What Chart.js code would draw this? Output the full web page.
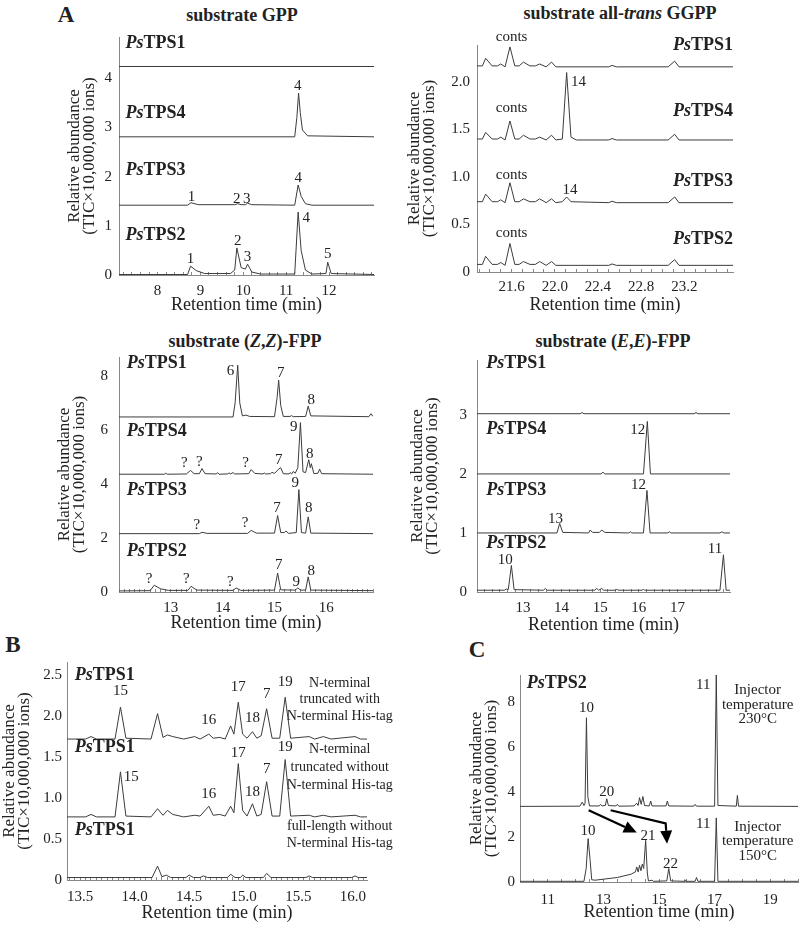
<!DOCTYPE html>
<html>
<head>
<meta charset="utf-8">
<script src="https://cdn.jsdelivr.net/npm/chart.js@4.4.0/dist/chart.umd.min.js"></script>
<style>
body { margin: 0; background: #fff; width: 800px; height: 927px; position: relative; overflow: hidden; font-family: 'Liberation Serif', serif; color: #222; }
canvas { position: absolute; }
.ttl { position: absolute; font-weight: bold; font-size: 18px; white-space: nowrap; transform: translate(-50%, -50%); }
.lbl { position: absolute; font-weight: bold; font-size: 23px; transform: translate(-50%, -50%); }
</style>
</head>
<body>
<div class="lbl" style="left:66px;top:15px">A</div>
<div class="lbl" style="left:13px;top:645px">B</div>
<div class="lbl" style="left:477px;top:650px">C</div>
<div class="ttl" style="left:242px;top:15px">substrate GPP</div>
<div class="ttl" style="left:620px;top:13px">substrate all-<i>trans</i> GGPP</div>
<div class="ttl" style="left:245px;top:341px">substrate (<i>Z</i>,<i>Z</i>)-FPP</div>
<div class="ttl" style="left:613px;top:341px">substrate (<i>E</i>,<i>E</i>)-FPP</div>

<canvas id="gpp" width="400" height="320" style="left:0;top:0"></canvas>
<canvas id="ggpp" width="400" height="320" style="left:400px;top:0"></canvas>
<canvas id="zz" width="400" height="320" style="left:0;top:320px"></canvas>
<canvas id="ee" width="400" height="320" style="left:400px;top:320px"></canvas>
<canvas id="his" width="400" height="287" style="left:0;top:640px"></canvas>
<canvas id="inj" width="400" height="287" style="left:400px;top:640px"></canvas>

<script>
// ---- A: substrate GPP  [time, abundance]
const gppTPS1 = [[7.1,4.24],[13.05,4.24]];
const gppTPS4 = [[7.1,2.81],[11.2,2.81],[11.25,3.2],[11.29,3.70],[11.33,3.3],[11.38,2.95],[11.5,2.83],[13.05,2.81]];
const gppTPS3 = [[7.1,1.42],[8.7,1.42],[8.78,1.47],[8.95,1.43],[9.8,1.43],[9.87,1.45],[9.95,1.43],[10.05,1.43],[10.1,1.46],[10.2,1.43],[11.2,1.42],[11.28,1.83],[11.35,1.6],[11.45,1.45],[11.6,1.42],[13.05,1.42]];
const gppTPS2 = [[7.1,0.01],[8.7,0.01],[8.77,0.18],[8.9,0.09],[9.1,0.03],[9.7,0.03],[9.8,0.1],[9.85,0.55],[9.95,0.15],[10.05,0.12],[10.1,0.22],[10.2,0.06],[10.4,0.02],[11.2,0.02],[11.28,1.28],[11.35,0.5],[11.45,0.1],[11.6,0.02],[11.93,0.03],[11.97,0.26],[12.05,0.03],[13.05,0.01]];
const gppPeaks = [[11.27,3.85,'4'],[8.79,1.58,'1'],[9.85,1.55,'2'],[10.08,1.55,'3'],[11.28,1.98,'4'],[8.77,0.33,'1'],[9.87,0.7,'2'],[10.1,0.37,'3'],[11.47,1.16,'4'],[11.97,0.42,'5']];
const gppNames = [[7.25,4.72,'TPS1'],[7.25,3.29,'TPS4'],[7.25,2.13,'TPS3'],[7.25,0.81,'TPS2']];
const gppXTicks = [8,9,10,11,12];
const gppYTicks = [0,1,2,3,4];

// ---- A: substrate all-trans GGPP
const ggTPS1 = [[21.28,2.17],[21.33,2.17],[21.36,2.25],[21.42,2.17],[21.47,2.17],[21.50,2.19],[21.54,2.16],[21.585,2.37],[21.63,2.17],[21.67,2.17],[21.71,2.21],[21.77,2.17],[21.82,2.17],[21.86,2.19],[21.92,2.16],[21.97,2.21],[22.01,2.16],[22.5,2.16],[22.53,2.175],[22.57,2.16],[23.05,2.16],[23.11,2.22],[23.15,2.16],[23.65,2.16]];
const ggTPS4 = [[21.28,1.40],[21.33,1.40],[21.36,1.47],[21.42,1.40],[21.47,1.40],[21.50,1.42],[21.54,1.39],[21.585,1.59],[21.63,1.40],[21.67,1.40],[21.71,1.44],[21.77,1.40],[21.82,1.40],[21.86,1.42],[21.92,1.39],[21.97,1.44],[22.01,1.39],[22.07,1.40],[22.11,2.10],[22.15,1.42],[22.2,1.39],[22.5,1.39],[22.53,1.405],[22.57,1.39],[23.05,1.39],[23.11,1.45],[23.15,1.39],[23.65,1.39]];
const ggTPS3 = [[21.28,0.74],[21.33,0.74],[21.36,0.82],[21.42,0.74],[21.47,0.74],[21.50,0.76],[21.54,0.73],[21.585,0.94],[21.63,0.74],[21.67,0.74],[21.71,0.77],[21.77,0.74],[21.82,0.74],[21.86,0.77],[21.92,0.73],[21.97,0.77],[22.01,0.73],[22.07,0.74],[22.11,0.79],[22.15,0.74],[22.5,0.73],[22.53,0.745],[22.57,0.73],[23.05,0.73],[23.11,0.79],[23.15,0.73],[23.65,0.73]];
const ggTPS2 = [[21.28,0.08],[21.33,0.08],[21.36,0.165],[21.42,0.08],[21.47,0.08],[21.50,0.10],[21.54,0.07],[21.585,0.30],[21.63,0.08],[21.67,0.08],[21.71,0.11],[21.77,0.08],[21.82,0.08],[21.86,0.11],[21.92,0.07],[21.97,0.11],[22.01,0.07],[22.5,0.07],[22.53,0.085],[22.57,0.07],[23.05,0.07],[23.11,0.13],[23.15,0.07],[23.65,0.07]];
const ggPeaks = [[21.6,2.47,'conts'],[21.6,1.73,'conts'],[22.22,2.0,'14'],[21.6,1.02,'conts'],[22.14,0.86,'14'],[21.6,0.41,'conts']];
const ggNames = [[23.65,2.39,'TPS1'],[23.65,1.69,'TPS4'],[23.65,0.95,'TPS3'],[23.65,0.34,'TPS2']];
const ggXTicks = [21.6,22.0,22.4,22.8,23.2];
const ggYTicks = [0,0.5,1.0,1.5,2.0];

// ---- A: substrate (Z,Z)-FPP
const zzTPS1 = [[12.0,6.48],[14.2,6.48],[14.24,7.0],[14.29,8.4],[14.33,7.0],[14.38,6.52],[14.45,6.55],[14.52,6.5],[15.0,6.49],[15.05,7.2],[15.08,7.84],[15.12,6.9],[15.17,6.5],[15.3,6.5],[15.33,6.53],[15.36,6.49],[15.6,6.5],[15.65,6.88],[15.7,6.52],[16.82,6.49],[16.86,6.6],[16.9,6.5]];
const zzTPS4 = [[12.0,4.36],[12.88,4.36],[12.9,4.4],[12.93,4.36],[13.3,4.37],[13.38,4.5],[13.45,4.38],[13.55,4.38],[13.6,4.57],[13.66,4.38],[13.88,4.37],[13.9,4.42],[13.93,4.36],[14.1,4.37],[14.12,4.41],[14.15,4.37],[14.2,4.42],[14.23,4.37],[14.5,4.38],[14.55,4.53],[14.62,4.39],[14.78,4.37],[14.8,4.41],[14.83,4.37],[14.92,4.38],[14.95,4.43],[15.0,4.39],[15.08,4.55],[15.12,4.6],[15.17,4.38],[15.28,4.37],[15.3,4.42],[15.33,4.37],[15.36,4.46],[15.4,4.4],[15.45,4.6],[15.5,6.27],[15.55,4.45],[15.6,4.42],[15.66,4.9],[15.69,4.6],[15.71,4.75],[15.76,4.38],[15.84,4.4],[15.87,4.55],[15.91,4.38],[16.9,4.36]];
const zzTPS3 = [[12.0,2.16],[13.55,2.16],[13.6,2.21],[13.7,2.17],[14.48,2.17],[14.55,2.28],[14.65,2.18],[15.0,2.18],[15.06,2.83],[15.12,2.2],[15.19,2.2],[15.22,2.26],[15.27,2.17],[15.42,2.2],[15.47,3.79],[15.52,2.2],[15.6,2.18],[15.65,2.78],[15.7,2.18],[16.9,2.16]];
const zzTPS2 = [[12.0,0.04],[12.6,0.05],[12.68,0.25],[12.8,0.12],[12.95,0.06],[13.33,0.06],[13.39,0.21],[13.5,0.07],[14.2,0.06],[14.26,0.15],[14.35,0.06],[15.0,0.07],[15.06,0.7],[15.12,0.08],[15.4,0.07],[15.45,0.15],[15.5,0.07],[15.6,0.07],[15.65,0.56],[15.7,0.07],[16.9,0.05]];
const zzPeaks = [[14.15,8.17,'6'],[15.12,8.09,'7'],[15.71,7.12,'8'],
  [13.26,4.79,'?'],[13.55,4.81,'?'],[14.44,4.79,'?'],[15.08,4.9,'7'],[15.37,6.11,'9'],[15.68,5.12,'8'],
  [13.5,2.47,'?'],[14.43,2.57,'?'],[15.05,3.09,'7'],[15.4,4.04,'9'],[15.66,3.09,'8'],
  [12.58,0.49,'?'],[13.3,0.49,'?'],[14.15,0.37,'?'],[15.08,0.99,'7'],[15.42,0.37,'9'],[15.71,0.77,'8']];
const zzNames = [[12.15,8.48,'TPS1'],[12.15,5.93,'TPS4'],[12.15,3.77,'TPS3'],[12.15,1.51,'TPS2']];
const zzXTicks = [13,14,15,16];
const zzYTicks = [0,2,4,6,8];

// ---- A: substrate (E,E)-FPP
const eeTPS1 = [[11.81,3.02],[14.48,3.02],[14.53,3.04],[14.58,3.02],[17.43,3.02],[17.48,3.04],[17.53,3.02],[18.36,3.02]];
const eeTPS4 = [[11.81,2.0],[15.02,2.0],[15.07,2.03],[15.12,2.0],[16.12,2.0],[16.22,2.89],[16.3,2.0],[18.36,2.0]];
const eeTPS3 = [[11.81,1.0],[13.88,1.0],[13.95,1.16],[14.03,1.01],[14.7,1.0],[14.74,1.05],[14.8,1.01],[14.98,1.01],[15.04,1.05],[15.12,1.01],[15.74,1.0],[15.78,1.02],[15.82,1.0],[16.12,1.0],[16.21,1.72],[16.29,1.0],[16.75,1.0],[16.79,1.02],[16.83,1.0],[18.1,1.0],[18.15,1.02],[18.2,1.0],[18.36,1.0]];
const eeTPS2 = [[11.81,0.03],[12.52,0.03],[12.57,0.05],[12.62,0.04],[12.70,0.45],[12.77,0.04],[13.53,0.03],[13.58,0.06],[13.63,0.03],[14.86,0.03],[14.91,0.06],[14.96,0.03],[15.04,0.06],[15.09,0.03],[15.4,0.03],[15.43,0.05],[15.46,0.03],[16.09,0.03],[16.12,0.05],[16.15,0.03],[18.1,0.03],[18.19,0.63],[18.26,0.03],[18.36,0.03]];
const eePeaks = [[15.97,2.75,'12'],[15.99,1.81,'12'],[13.84,1.24,'13'],[12.54,0.54,'10'],[17.97,0.72,'11']];
const eeNames = [[12.05,3.88,'TPS1'],[12.05,2.75,'TPS4'],[12.05,1.72,'TPS3'],[12.05,0.82,'TPS2']];
const eeXTicks = [13,14,15,16,17];
const eeYTicks = [0,1,2,3];

// ---- B: PsTPS1 constructs
const hisTrunc = [[13.38,1.72],[13.55,1.72],[13.6,1.75],[13.65,1.72],[13.82,1.72],[13.87,2.11],[13.92,1.73],[14.15,1.72],[14.21,2.03],[14.26,1.74],[14.3,1.77],[14.35,1.75],[14.45,1.72],[14.55,1.75],[14.6,1.72],[14.68,1.78],[14.72,1.73],[14.78,1.74],[14.83,1.72],[14.88,1.88],[14.91,1.78],[14.95,2.17],[14.99,1.78],[15.03,1.73],[15.08,1.81],[15.12,1.73],[15.16,1.76],[15.21,2.09],[15.26,1.73],[15.33,1.73],[15.38,2.23],[15.43,1.73],[15.6,1.75],[15.65,1.72],[15.73,1.75],[15.8,1.72],[16.02,1.75],[16.07,1.72],[16.13,1.72]];
const noHisTrunc = [[13.38,0.77],[13.55,0.77],[13.6,0.8],[13.65,0.77],[13.82,0.77],[13.87,1.32],[13.92,0.78],[14.15,0.77],[14.21,0.87],[14.26,0.79],[14.3,0.85],[14.35,0.8],[14.45,0.77],[14.55,0.79],[14.6,0.78],[14.68,0.9],[14.72,0.79],[14.78,0.8],[14.83,0.78],[14.88,0.9],[14.91,0.82],[14.95,1.42],[14.99,0.85],[15.03,0.78],[15.08,0.93],[15.12,0.78],[15.16,0.8],[15.21,1.2],[15.26,0.78],[15.33,0.78],[15.38,1.47],[15.43,0.78],[15.6,0.79],[15.65,0.77],[15.73,0.79],[15.8,0.77],[16.02,0.79],[16.07,0.77],[16.13,0.77]];
const noHisFull = [[13.38,0.03],[14.16,0.03],[14.21,0.17],[14.25,0.04],[14.29,0.06],[14.33,0.03],[14.47,0.03],[14.5,0.06],[14.54,0.03],[14.6,0.03],[14.63,0.05],[14.67,0.03],[14.85,0.03],[14.88,0.07],[14.92,0.03],[14.97,0.03],[14.99,0.06],[15.02,0.03],[15.18,0.03],[15.21,0.08],[15.25,0.03],[15.57,0.03],[15.6,0.05],[15.63,0.03],[15.99,0.03],[16.02,0.05],[16.05,0.03],[16.13,0.03]];
const hisPeaks = [[13.87,2.3,'15'],[14.68,1.95,'16'],[14.95,2.35,'17'],[15.08,1.98,'18'],[15.21,2.27,'7'],[15.38,2.42,'19'],
  [13.97,1.25,'15'],[14.68,1.05,'16'],[14.95,1.55,'17'],[15.08,1.07,'18'],[15.21,1.35,'7'],[15.38,1.62,'19']];
const hisNames = [[13.45,2.5,'TPS1'],[13.45,1.62,'TPS1'],[13.45,0.6,'TPS1']];
const hisNotes = [[15.88,2.40,'N-terminal'],[15.88,2.20,'truncated with'],[15.88,2.0,'N-terminal His-tag'],
  [15.88,1.59,'N-terminal'],[15.88,1.37,'truncated without'],[15.88,1.15,'N-terminal His-tag'],
  [15.88,0.66,'full-length without'],[15.88,0.45,'N-terminal His-tag']];
const hisXTicks = [13.5,14.0,14.5,15.0,15.5,16.0];
const hisYTicks = [0,0.5,1.0,1.5,2.0,2.5];

// ---- C: PsTPS2, injector temperature
const inj230 = [[10,3.36],[12.15,3.37],[12.24,3.55],[12.3,3.4],[12.34,3.5],[12.39,7.3],[12.44,3.8],[12.5,3.38],[12.85,3.38],[12.9,3.45],[12.95,3.38],[13.07,3.4],[13.12,3.7],[13.18,3.4],[13.45,3.38],[13.5,3.45],[13.55,3.37],[14.1,3.38],[14.2,3.5],[14.25,3.4],[14.3,3.75],[14.36,3.45],[14.42,3.8],[14.48,3.4],[14.65,3.38],[14.7,3.6],[14.75,3.38],[15.25,3.38],[15.3,3.6],[15.35,3.38],[16.25,3.37],[16.3,3.45],[16.35,3.37],[17.0,3.37],[17.06,9.2],[17.12,3.4],[17.78,3.37],[17.82,3.85],[17.86,3.37],[20,3.36]];
const inj150 = [[10,0.03],[12.3,0.03],[12.38,0.6],[12.45,1.93],[12.52,1.0],[12.58,0.1],[12.7,0.08],[13.5,0.2],[14.0,0.35],[14.15,0.45],[14.2,0.67],[14.25,0.45],[14.3,0.74],[14.35,0.5],[14.4,0.8],[14.45,0.6],[14.52,1.85],[14.58,0.4],[14.62,0.05],[14.75,0.08],[14.8,0.03],[15.28,0.05],[15.35,0.6],[15.42,0.05],[15.9,0.03],[15.93,0.1],[15.96,0.03],[16.3,0.03],[16.35,0.2],[16.4,0.03],[17.0,0.03],[17.06,2.85],[17.12,0.03],[20,0.03]];
const injPeaks = [[12.39,7.75,'10'],[13.12,4.0,'20'],[16.59,8.74,'11'],[12.45,2.27,'10'],[14.6,2.05,'21'],[15.41,0.8,'22'],[16.59,2.59,'11']];
const injNames = [[10.24,8.81,'TPS2']];
const injNotes = [[18.55,8.52,'Injector'],[18.55,7.85,'temperature'],[18.55,7.22,'230°C'],[18.55,2.44,'Injector'],[18.55,1.8,'temperature'],[18.55,1.15,'150°C']];
const injArrows = [[[12.47,3.19],[14.2,2.2]],[[13.26,3.19],[15.24,2.6],[15.29,1.7]]];
const injXTicks = [11,13,15,17,19];
const injYTicks = [0,2,4,6,8];

Chart.defaults.font.family = "'Liberation Serif', serif";
Chart.defaults.color = '#222';

const annot = {
  id: 'annot',
  afterDatasetsDraw(chart, args, o) {
    const ctx = chart.ctx, x = chart.scales.x, y = chart.scales.y;
    ctx.save();
    ctx.fillStyle = '#222';
    ctx.textBaseline = 'middle';
    ctx.textAlign = 'center';
    ctx.font = '15px "Liberation Serif"';
    (o.peaks || []).forEach(([px, py, t]) => ctx.fillText(t, x.getPixelForValue(px), y.getPixelForValue(py)));
    ctx.font = (o.noteSize || 15) + 'px "Liberation Serif"';
    (o.notes || []).forEach(([px, py, t]) => ctx.fillText(t, x.getPixelForValue(px), y.getPixelForValue(py)));
    (o.names || []).forEach(([px, py, t]) => {
      ctx.font = 'italic bold 18px "Liberation Serif"';
      const w1 = ctx.measureText('Ps').width;
      ctx.font = 'bold 18px "Liberation Serif"';
      const w2 = ctx.measureText(t).width;
      let left = x.getPixelForValue(px);
      if (o.namesRight) left -= w1 + w2;
      const yy = y.getPixelForValue(py);
      ctx.textAlign = 'left';
      ctx.font = 'italic bold 18px "Liberation Serif"';
      ctx.fillText('Ps', left, yy);
      ctx.font = 'bold 18px "Liberation Serif"';
      ctx.fillText(t, left + w1, yy);
    });
    (o.arrows || []).forEach(pts => {
      const p = pts.map(([a, b]) => [x.getPixelForValue(a), y.getPixelForValue(b)]);
      const [ex, ey] = p[p.length - 1], [sx, sy] = p[p.length - 2];
      const ang = Math.atan2(ey - sy, ex - sx), hl = 13, hw = 6;
      ctx.strokeStyle = '#000';
      ctx.lineWidth = 2.2;
      ctx.beginPath();
      ctx.moveTo(p[0][0], p[0][1]);
      for (let i = 1; i < p.length - 1; i++) ctx.lineTo(p[i][0], p[i][1]);
      ctx.lineTo(ex - hl * Math.cos(ang), ey - hl * Math.sin(ang));
      ctx.stroke();
      ctx.fillStyle = '#000';
      ctx.beginPath();
      ctx.moveTo(ex, ey);
      ctx.lineTo(ex - hl * Math.cos(ang) + hw * Math.sin(ang), ey - hl * Math.sin(ang) - hw * Math.cos(ang));
      ctx.lineTo(ex - hl * Math.cos(ang) - hw * Math.sin(ang), ey - hl * Math.sin(ang) + hw * Math.cos(ang));
      ctx.closePath();
      ctx.fill();
    });
    ctx.restore();
  }
};

function panel(id, p) {
  const ticks = [];
  const n0 = Math.ceil(p.xMin / p.minor - 1e-6), n1 = Math.floor(p.xMax / p.minor + 1e-6);
  for (let i = n0; i <= n1; i++) ticks.push(+(i * p.minor).toFixed(4));
  const isMajor = v => p.xTicks.some(m => Math.abs(m - v) < 1e-6);
  return new Chart(document.getElementById(id), {
    type: 'line',
    data: {
      datasets: p.traces.map(t => ({
        data: t.map(([a, b]) => ({x: a, y: b})),
        borderColor: '#3c3c3c', borderWidth: 1, pointRadius: 0, tension: 0, fill: false
      }))
    },
    options: {
      responsive: false, animation: false, events: [],
      layout: {autoPadding: false, padding: {left: 0, top: p.top, right: p.right, bottom: 0}},
      plugins: {legend: {display: false}, tooltip: {enabled: false}, annot: p.annot},
      scales: {
        x: {
          type: 'linear', min: p.xMin, max: p.xMax,
          afterBuildTicks: s => { s.ticks = ticks.map(v => ({value: v})); },
          afterFit: s => { s.height = p.xH; s.paddingLeft = 0; s.paddingRight = 0; },
          ticks: {autoSkip: false, maxRotation: 0, minRotation: 0, padding: p.xTickPad + 6, font: {size: 15},
                  callback: v => isMajor(v) ? p.xFmt(v) : ''},
          // tick marks point up into the plot, as in the original figure
          grid: {drawOnChartArea: false, tickLength: -3, color: '#888'},
          border: {color: '#888'},
          title: {display: true, text: 'Retention time (min)', font: {size: 18, lineHeight: 1},
                  padding: {top: 0, bottom: p.xTitlePad}}
        },
        y: {
          type: 'linear', min: 0, max: p.yMax,
          afterBuildTicks: s => { s.ticks = p.yTicks.map(v => ({value: v})); },
          afterFit: s => { s.width = p.yW; s.paddingTop = 0; s.paddingBottom = 0; },
          ticks: {padding: p.yTickPad, font: {size: 15}, callback: v => p.yFmt(v)},
          grid: {display: false, drawTicks: false},
          border: {color: '#888'},
          title: {display: true, text: ['Relative abundance', '(TIC×10,000,000 ions)'],
                  font: {size: 17, lineHeight: 0.9}, padding: {top: p.yTitlePad, bottom: 0}}
        }
      }
    },
    plugins: [annot]
  });
}

const intFmt = v => String(v);
const oneDec = v => v === 0 ? '0' : v.toFixed(1);

panel('gpp', {traces: [gppTPS1, gppTPS4, gppTPS3, gppTPS2], xMin: 7.1, xMax: 13.05, minor: 0.2, xTicks: gppXTicks, xFmt: intFmt,
  yMax: 4.84, yTicks: gppYTicks, yFmt: intFmt, top: 37, right: 26, yW: 119, xH: 45, xTickPad: 4, xTitlePad: 6, yTickPad: 7, yTitlePad: 67,
  annot: {peaks: gppPeaks, names: gppNames}});
panel('ggpp', {traces: [ggTPS1, ggTPS4, ggTPS3, ggTPS2], xMin: 21.28, xMax: 23.65, minor: 0.1, xTicks: ggXTicks, xFmt: oneDec,
  yMax: 2.39, yTicks: ggYTicks, yFmt: oneDec, top: 45, right: 67, yW: 77, xH: 48, xTickPad: 3, xTitlePad: 6, yTickPad: 7, yTitlePad: 7,
  annot: {peaks: ggPeaks, names: ggNames, namesRight: true}});
panel('zz', {traces: [zzTPS1, zzTPS4, zzTPS3, zzTPS2], xMin: 12.0, xMax: 16.9, minor: 0.1, xTicks: zzXTicks, xFmt: intFmt,
  yMax: 8.7, yTicks: zzYTicks, yFmt: intFmt, top: 37, right: 27, yW: 119, xH: 48, xTickPad: 4, xTitlePad: 8, yTickPad: 11, yTitlePad: 57,
  annot: {peaks: zzPeaks, names: zzNames}});
panel('ee', {traces: [eeTPS1, eeTPS4, eeTPS3, eeTPS2], xMin: 11.81, xMax: 18.36, minor: 0.2, xTicks: eeXTicks, xFmt: intFmt,
  yMax: 3.93, yTicks: eeYTicks, yFmt: intFmt, top: 40, right: 70, yW: 77, xH: 48, xTickPad: 4, xTitlePad: 6, yTickPad: 10, yTitlePad: 10,
  annot: {peaks: eePeaks, names: eeNames}});
panel('his', {traces: [hisTrunc, noHisTrunc, noHisFull], xMin: 13.38, xMax: 16.13, minor: 0.05, xTicks: hisXTicks, xFmt: oneDec,
  yMax: 2.66, yTicks: hisYTicks, yFmt: oneDec, top: 22, right: 33, yW: 67, xH: 47, xTickPad: 5, xTitlePad: 5, yTickPad: 5, yTitlePad: 2,
  annot: {peaks: hisPeaks, names: hisNames, notes: hisNotes, noteSize: 14}});
panel('inj', {traces: [inj230, inj150], xMin: 10, xMax: 20, minor: 0.5, xTicks: injXTicks, xFmt: intFmt,
  yMax: 9.2, yTicks: injYTicks, yFmt: intFmt, top: 35, right: 2, yW: 120, xH: 45, xTickPad: 6, xTitlePad: 6, yTickPad: 5, yTitlePad: 69,
  annot: {peaks: injPeaks, names: injNames, notes: injNotes, noteSize: 15, arrows: injArrows}});
</script>
</body>
</html>
